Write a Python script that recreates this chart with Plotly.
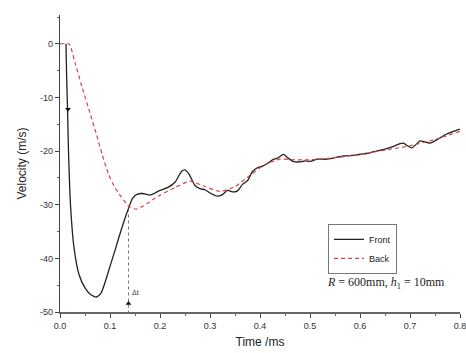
import plotly.graph_objects as go

front_t = [0.012, 0.013, 0.015, 0.017, 0.021, 0.028, 0.038, 0.05, 0.062, 0.073, 0.082, 0.09, 0.1,
           0.11, 0.12, 0.13, 0.137, 0.145, 0.155, 0.165, 0.18, 0.19, 0.2, 0.215, 0.23, 0.243, 0.25,
           0.258, 0.27, 0.28, 0.29, 0.3, 0.315, 0.325, 0.335, 0.345, 0.355, 0.365, 0.375, 0.385,
           0.395, 0.405, 0.415, 0.425, 0.435, 0.447, 0.455, 0.466, 0.48, 0.49, 0.5, 0.515, 0.533,
           0.55, 0.567, 0.585, 0.607, 0.62, 0.633, 0.65, 0.667, 0.68, 0.687, 0.695, 0.703, 0.715,
           0.72, 0.74, 0.755, 0.773, 0.79, 0.8]
front_v = [0, -5, -12, -20, -30, -38, -43, -45.5, -46.8, -47.2, -46.5, -44.5, -41.5,
           -38.5, -35.4, -32.5, -30.7, -28.8, -28.0, -27.9, -28.2, -27.8, -27.3, -26.8, -25.8, -23.8, -23.5,
           -24.3, -26.4, -27.0, -27.2, -27.8, -28.4, -28.1, -27.3, -27.6, -27.4, -26.2, -25.5, -23.8,
           -23.1, -22.8, -22.3, -21.6, -21.3, -20.6, -21.2, -21.9, -22.0, -21.8, -21.9, -21.5, -21.5,
           -21.2, -20.9, -20.8, -20.5, -20.3, -20.0, -19.6, -19.1, -18.6, -18.5, -19.0, -19.4, -18.5,
           -18.1, -18.5, -17.8, -16.8, -16.2, -15.9]

back_t = [0.0, 0.018, 0.03, 0.043, 0.058, 0.073, 0.085, 0.097, 0.11, 0.123, 0.14, 0.153, 0.165,
          0.175, 0.19, 0.2, 0.23, 0.26, 0.29, 0.32, 0.35, 0.38, 0.41, 0.44, 0.47, 0.5, 0.55,
          0.6, 0.65, 0.7, 0.75, 0.8]
back_v = [0, 0, -3.5, -7.7, -12.3, -16.9, -20.8, -24.3, -26.8, -28.6, -30.5, -30.8, -30.3,
          -29.7, -28.8, -28.2, -26.8, -25.6, -26.6, -27.5, -26.6, -24.5, -22.5, -21.5, -21.6, -21.6, -21.2,
          -20.6, -19.8, -19.0, -17.8, -16.3]

cross_t = 0.137
cross_v = -30.7

marker_t = [0.016, 0.137]
marker_v = [-12.2, -48.4]

x_ticks = [0.0, 0.1, 0.2, 0.3, 0.4, 0.5, 0.6, 0.7, 0.8]
x_labels = ["0.0", "0.1", "0.2", "0.3", "0.4", "0.5", "0.6", "0.7", "0.8"]
y_ticks = [0, -10, -20, -30, -40, -50]
y_labels = ["0", "-10", "-20", "-30", "-40", "-50"]

fig = go.Figure()
fig.add_trace(go.Scatter(x=front_t, y=front_v, mode="lines", name="Front",
                         line=dict(color="#222222", width=1.3, shape="spline", smoothing=0.6)))
fig.add_trace(go.Scatter(x=back_t, y=back_v, mode="lines", name="Back",
                         line=dict(color="#d9434a", width=1.2, dash="4px,3px", shape="spline", smoothing=0.6)))
fig.add_trace(go.Scatter(x=[cross_t, cross_t], y=[cross_v, -50], mode="lines", showlegend=False,
                         line=dict(color="#555555", width=0.8, dash="dot")))
fig.add_trace(go.Scatter(x=marker_t, y=marker_v, mode="markers", showlegend=False,
                         marker=dict(symbol=["triangle-down", "triangle-up"], size=5, color="#111")))

fig.add_annotation(x=cross_t + 0.003, y=-46.3, xref="x", yref="y", text="Δt", showarrow=False,
                   xanchor="left", font=dict(size=7, color="#333"))
fig.add_annotation(x=0.9675, y=-44.6, xref="x domain", yref="y", xanchor="right",
                   text="<i>R</i> = 600mm, <i>h</i><sub>1</sub> = 10mm", showarrow=False,
                   font=dict(size=12, color="#222", family="Liberation Serif"))

fig.update_layout(
    width=466, height=353,
    margin=dict(l=60, r=6, t=15, b=41, autoexpand=False),
    paper_bgcolor="white", plot_bgcolor="white",
    font=dict(family="Liberation Sans", size=9, color="#333"),
    legend=dict(x=0.67, y=0.297, xanchor="left", yanchor="top",
                bordercolor="#777", borderwidth=1, bgcolor="white",
                font=dict(size=9, color="#222"), tracegroupgap=0, itemwidth=30),
    xaxis=dict(range=[0, 0.8], tickvals=x_ticks, ticktext=x_labels, showgrid=False, zeroline=False,
               showline=True, linecolor="#666", linewidth=2, ticks="outside", ticklen=4, tickcolor="#444",
               ticklabeloverflow="allow", automargin=False,
               minor=dict(ticks="outside", dtick=0.05, tick0=0, ticklen=2, tickcolor="#666"),
               title=dict(text="Time /ms", font=dict(size=12, color="#222"), standoff=8)),
    yaxis=dict(range=[-50, 5.4], tickvals=y_ticks, ticktext=y_labels, showgrid=False, zeroline=False,
               showline=True, linecolor="#444", linewidth=1.2, ticks="outside", ticklen=4, tickcolor="#444",
               automargin=False,
               minor=dict(ticks="outside", dtick=5, tick0=0, ticklen=2, tickcolor="#666"),
               title=dict(text="Velocity (m/s)", font=dict(size=12, color="#222"), standoff=10)),
)

fig.write_html("out.html")
